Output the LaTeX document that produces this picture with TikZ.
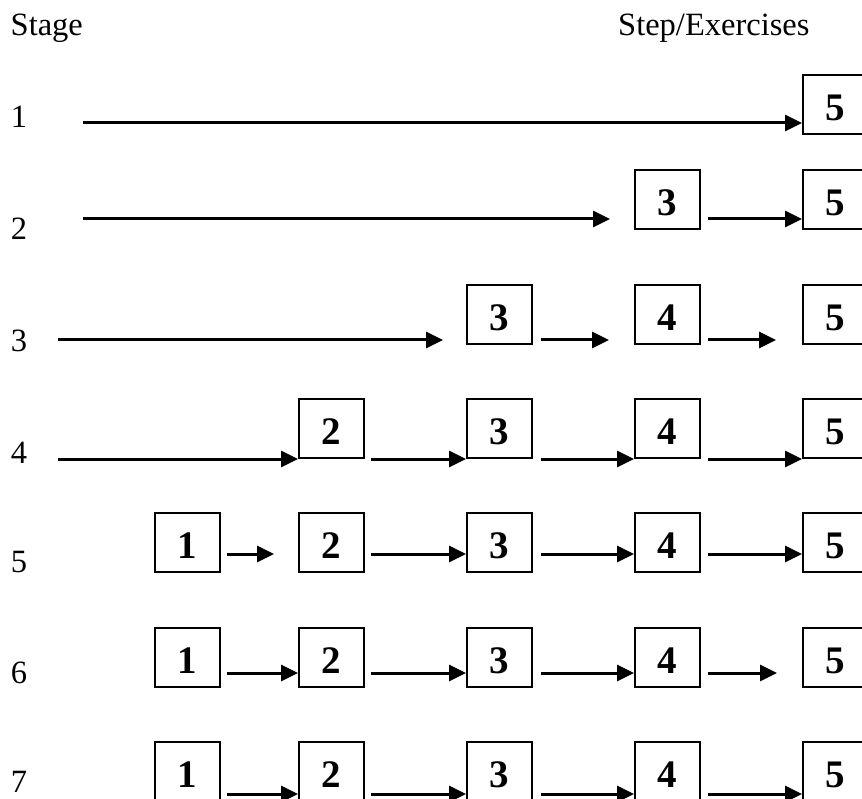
\documentclass[tikz,border=0pt]{standalone}
\usepackage{fontspec}
\setmainfont{Liberation Serif}
\usetikzlibrary{arrows.meta,calc}
\begin{document}
\begin{tikzpicture}[x=1pt,y=-1pt,
  box/.style={draw, line width=1.8pt, minimum width=65pt, minimum height=59pt,
    inner sep=0pt, font=\fontsize{39}{42}\selectfont\bfseries,
    text height=32pt, text depth=0pt},
  arr/.style={line width=3pt, -{Triangle[length=17pt,width=16pt]}},
  lab/.style={inner sep=0pt, font=\fontsize{32.5}{36}\selectfont}]
\clip (0,0) rectangle (862,799);
% headers
\node[lab, anchor=base west] (stage) at (10.5,36) {Stage};
\node[lab, anchor=base west] (steps) at (618,36) {Step/Exercises};
% row labels
\node[lab, anchor=base] (l1) at (19,128) {1};
\node[lab, anchor=base] (l2) at (19,240) {2};
\node[lab, anchor=base] (l3) at (19,352) {3};
\node[lab, anchor=base] (l4) at (19,463) {4};
\node[lab, anchor=base] (l5) at (19,572) {5};
\node[lab, anchor=base] (l6) at (19,683) {6};
\node[lab, anchor=base] (l7) at (19,792) {7};
% row 1
\node[box] (b15) at (835.5,104.5) {5};
% row 2
\node[box] (b24) at (667.5,199.5) {3};
\node[box] (b25) at (835.5,199.5) {5};
% row 3
\node[box] (b33) at (499.5,314.5) {3};
\node[box] (b34) at (667.5,314.5) {4};
\node[box] (b35) at (835.5,314.5) {5};
% row 4
\node[box] (b42) at (331.5,428.5) {2};
\node[box] (b43) at (499.5,428.5) {3};
\node[box] (b44) at (667.5,428.5) {4};
\node[box] (b45) at (835.5,428.5) {5};
% row 5
\node[box] (b51) at (187.5,542.5) {1};
\node[box] (b52) at (331.5,542.5) {2};
\node[box] (b53) at (499.5,542.5) {3};
\node[box] (b54) at (667.5,542.5) {4};
\node[box] (b55) at (835.5,542.5) {5};
% row 6
\node[box] (b61) at (187.5,657.5) {1};
\node[box] (b62) at (331.5,657.5) {2};
\node[box] (b63) at (499.5,657.5) {3};
\node[box] (b64) at (667.5,657.5) {4};
\node[box] (b65) at (835.5,657.5) {5};
% row 7
\node[box] (b71) at (187.5,771.5) {1};
\node[box] (b72) at (331.5,771.5) {2};
\node[box] (b73) at (499.5,771.5) {3};
\node[box] (b74) at (667.5,771.5) {4};
\node[box] (b75) at (835.5,771.5) {5};
% arrow rows
\coordinate (s1) at (83,123);
\coordinate (s2) at (83,219);
\coordinate (e2) at (610,219);
\coordinate (s3) at (58,340);
\coordinate (e3) at (443,340);
\coordinate (s4) at (58,459);
\coordinate (y5) at (0,554);
\coordinate (y6) at (0,673);
\coordinate (y7) at (0,794);
% row 1
\draw[arr] (s1) -- (b15.west |- s1);
% row 2
\draw[arr] (s2) -- (e2);
\draw[arr] ($(b24.east |- s2)+(7,0)$) -- (b25.west |- s2);
% row 3
\draw[arr] (s3) -- (e3);
\draw[arr] ($(b33.east |- s3)+(8,0)$) -- ($(b34.west |- s3)+(-25,0)$);
\draw[arr] ($(b34.east |- s3)+(7,0)$) -- ($(b35.west |- s3)+(-26,0)$);
% row 4
\draw[arr] (s4) -- (b42.west |- s4);
\draw[arr] ($(b42.east |- s4)+(6,0)$) -- (b43.west |- s4);
\draw[arr] ($(b43.east |- s4)+(8,0)$) -- (b44.west |- s4);
\draw[arr] ($(b44.east |- s4)+(7,0)$) -- (b45.west |- s4);
% row 5
\draw[arr] ($(b51.east |- y5)+(6,0)$) -- ($(b52.west |- y5)+(-24,0)$);
\draw[arr] ($(b52.east |- y5)+(6,0)$) -- (b53.west |- y5);
\draw[arr] ($(b53.east |- y5)+(8,0)$) -- (b54.west |- y5);
\draw[arr] ($(b54.east |- y5)+(7,0)$) -- (b55.west |- y5);
% row 6
\draw[arr] ($(b61.east |- y6)+(6,0)$) -- (b62.west |- y6);
\draw[arr] ($(b62.east |- y6)+(6,0)$) -- (b63.west |- y6);
\draw[arr] ($(b63.east |- y6)+(8,0)$) -- (b64.west |- y6);
\draw[arr] ($(b64.east |- y6)+(7,0)$) -- ($(b65.west |- y6)+(-25,0)$);
% row 7
\draw[arr] ($(b71.east |- y7)+(6,0)$) -- (b72.west |- y7);
\draw[arr] ($(b72.east |- y7)+(6,0)$) -- (b73.west |- y7);
\draw[arr] ($(b73.east |- y7)+(8,0)$) -- (b74.west |- y7);
\draw[arr] ($(b74.east |- y7)+(7,0)$) -- (b75.west |- y7);
\end{tikzpicture}
\end{document}
